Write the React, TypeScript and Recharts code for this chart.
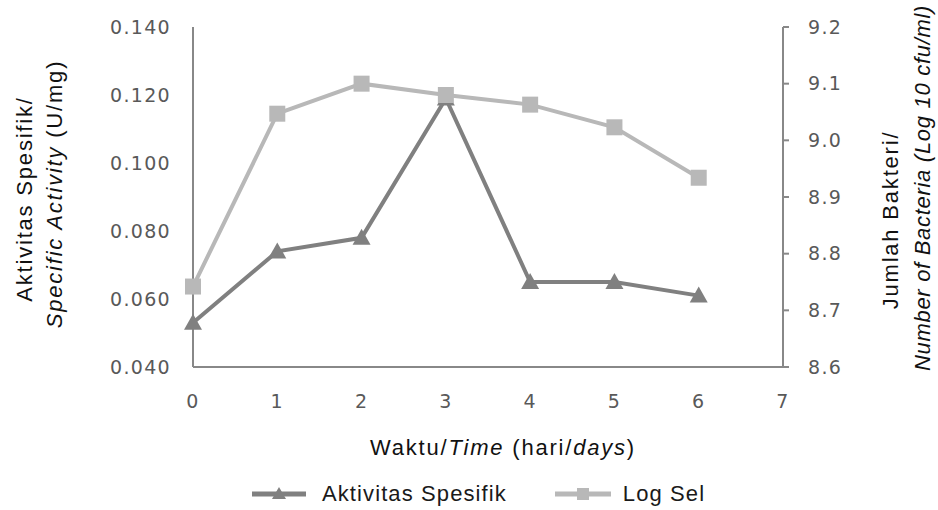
import React from "react";
import {
  Label,
  Legend,
  Line,
  LineChart,
  XAxis,
  YAxis,
} from "recharts";

const days = [0, 1, 2, 3, 4, 5, 6];
const aktivitasSpesifik = [0.053, 0.074, 0.078, 0.119, 0.065, 0.065, 0.061];
const logSel = [8.742, 9.047, 9.1, 9.08, 9.063, 9.023, 8.934];

const dayTicks = [0, 1, 2, 3, 4, 5, 6, 7];
const activityTicks = [0.04, 0.06, 0.08, 0.1, 0.12, 0.14];
const logTicks = [8.6, 8.7, 8.8, 8.9, 9.0, 9.1, 9.2];

const data = days.map((d, i) => ({
  day: d,
  aktivitas: aktivitasSpesifik[i],
  log: logSel[i],
}));

const DARK = "#808080";
const LIGHT = "#b8b8b8";
const AXIS = "#888888";
const TICK_FONT = "'DejaVu Sans', Verdana, sans-serif";
const TITLE_FONT = "'Liberation Sans', Arial, sans-serif";

const tickStyle = {
  fontSize: 19,
  fill: "#595959",
  fontFamily: TICK_FONT,
  letterSpacing: 1.3,
};

const Triangle = (props: any) => {
  const { cx, cy, index } = props;
  if (cx == null || cy == null) return null;
  return (
    <path
      key={`t-${index}`}
      d={`M${cx},${cy - 9} L${cx + 9},${cy + 7} L${cx - 9},${cy + 7} Z`}
      fill={DARK}
    />
  );
};

const Square = (props: any) => {
  const { cx, cy, index } = props;
  if (cx == null || cy == null) return null;
  return <rect key={`s-${index}`} x={cx - 8} y={cy - 8} width={16} height={16} fill={LIGHT} />;
};

const RotatedTitle = ({
  cx,
  cy,
  spacing = 1.8,
  children,
}: {
  cx: number;
  cy: number;
  spacing?: number;
  children: React.ReactNode;
}) => (
  <text
    transform={`translate(${cx},${cy}) rotate(-90)`}
    textAnchor="middle"
    dy="0.35em"
    fontSize={22}
    fontFamily={TITLE_FONT}
    fill="#111"
    letterSpacing={spacing}
  >
    {children}
  </text>
);

const LegendContent = () => (
  <div
    style={{
      display: "flex",
      alignItems: "center",
      height: 30,
      width: 938,
      boxSizing: "border-box",
      paddingLeft: 252,
      fontFamily: TITLE_FONT,
      fontSize: 22,
      letterSpacing: 1.1,
      color: "#1a1a1a",
    }}
  >
    <svg width={54} height={20}>
      <line x1={0} y1={10} x2={54} y2={10} stroke={DARK} strokeWidth={5} />
      <path d="M27,3 L34,15 L20,15 Z" fill={DARK} />
    </svg>
    <span style={{ marginLeft: 16 }}>Aktivitas Spesifik</span>
    <svg width={56} height={20} style={{ marginLeft: 48 }}>
      <line x1={0} y1={10} x2={56} y2={10} stroke={LIGHT} strokeWidth={5} />
      <rect x={22} y={4} width={12} height={12} fill={LIGHT} />
    </svg>
    <span style={{ marginLeft: 12 }}>Log Sel</span>
  </div>
);

export default function App() {
  return (
    <div style={{ position: "absolute", left: 0, top: 0, background: "#fff" }}>
      <LineChart
        width={938}
        height={510}
        data={data}
        margin={{ top: 27, right: 0, bottom: 1, left: 0 }}
      >
        <XAxis
          dataKey="day"
          type="number"
          domain={[0, 7]}
          ticks={dayTicks}
          stroke={AXIS}
          strokeWidth={2}
          tickLine={false}
          tickSize={0}
          tickMargin={28}
          tick={tickStyle}
          height={112}
        >
          <Label
            content={(props: any) => {
              const vb = props.viewBox;
              return (
                <text
                  x={vb.x + vb.width / 2 + 15}
                  y={vb.y + 80}
                  textAnchor="middle"
                  dy="0.35em"
                  fontSize={22}
                  fontFamily={TITLE_FONT}
                  fill="#111"
                  letterSpacing={1.8}
                >
                  Waktu/<tspan fontStyle="italic">Time</tspan> (hari/
                  <tspan fontStyle="italic">days</tspan>)
                </text>
              );
            }}
          />
        </XAxis>
        <YAxis
          yAxisId="left"
          domain={[0.04, 0.14]}
          ticks={activityTicks}
          tickFormatter={(v: number) => v.toFixed(3)}
          stroke={AXIS}
          strokeWidth={2}
          tickLine={false}
          tickSize={0}
          tickMargin={22}
          tick={tickStyle}
          width={193}
        >
          <Label
            content={() => (
              <g>
                <RotatedTitle cx={24} cy={199}>Aktivitas Spesifik/</RotatedTitle>
                <RotatedTitle cx={54} cy={194}>
                  <tspan fontStyle="italic">Specific Activity</tspan> (U/mg)
                </RotatedTitle>
              </g>
            )}
          />
        </YAxis>
        <YAxis
          yAxisId="right"
          orientation="right"
          domain={[8.6, 9.2]}
          ticks={logTicks}
          tickFormatter={(v: number) => v.toFixed(1)}
          stroke={AXIS}
          strokeWidth={2}
          tickLine={{ stroke: AXIS, strokeWidth: 2 }}
          tickSize={6}
          tickMargin={19}
          tick={tickStyle}
          width={155}
        >
          <Label
            content={() => (
              <g>
                <RotatedTitle cx={890} cy={220}>Jumlah Bakteri/</RotatedTitle>
                <RotatedTitle cx={922} cy={188} spacing={0.7}>
                  <tspan fontStyle="italic">Number of Bacteria (Log 10 cfu/ml)</tspan>
                </RotatedTitle>
              </g>
            )}
          />
        </YAxis>
        <Legend verticalAlign="bottom" height={30} content={<LegendContent />} />
        <Line
          yAxisId="left"
          dataKey="aktivitas"
          name="Aktivitas Spesifik"
          stroke={DARK}
          strokeWidth={4}
          dot={Triangle}
          activeDot={false}
          isAnimationActive={false}
        />
        <Line
          yAxisId="right"
          dataKey="log"
          name="Log Sel"
          stroke={LIGHT}
          strokeWidth={4}
          dot={Square}
          activeDot={false}
          isAnimationActive={false}
        />
      </LineChart>
    </div>
  );
}
